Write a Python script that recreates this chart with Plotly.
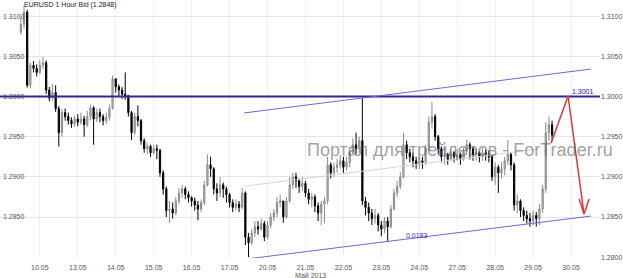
import numpy as np
import plotly.graph_objects as go

# ---- data (prices in pips: 13000 = 1.3000), 2-hour bars starting 09.05 12:00 ----
first_open = 13080
closes = [13090,13105,13014,13039,13035,13030,13039,13042,13008,12998,13005,12985,12955,12980,12975,12970,
          12966,12972,12968,12972,12965,12975,12986,12972,12980,12975,12970,12974,12985,13022,13012,13008,
          13003,13001,12980,12955,12975,12970,12945,12935,12938,12930,12935,12933,12905,12885,12858,12860,
          12855,12870,12880,12885,12878,12874,12870,12865,12860,12868,12890,12915,12910,12885,12880,12890,
          12885,12878,12868,12862,12866,12862,12880,12825,12818,12830,12838,12835,12842,12825,12840,12850,
          12855,12868,12870,12850,12870,12890,12900,12895,12888,12892,12880,12872,12875,12864,12855,12866,
          12870,12915,12905,12912,12915,12920,12912,12918,12930,12940,12935,12945,12870,12862,12855,12848,
          12852,12840,12835,12845,12838,12860,12880,12888,12900,12940,12930,12925,12920,12915,12920,12918,
          12935,12968,12975,12950,12935,12925,12928,12922,12930,12925,12928,12922,12932,12940,12935,12928,
          12930,12925,12930,12928,12925,12900,12912,12905,12910,12920,12928,12915,12865,12870,12858,12852,
          12848,12845,12852,12848,12860,12885,12955,12965,12952]
highs = [13098,13113,13108,13042,13044,13040,13045,13049,13045,13012,13015,13014,12988,12984,12985,12980,
         12974,12976,12978,12980,12976,12982,12990,12988,12985,12985,12978,12980,12990,13026,13022,13015,
         13012,13030,13002,12982,12980,12989,12972,12948,12942,12940,12940,12940,12935,12908,12888,12870,
         12868,12875,12886,12890,12888,12882,12876,12874,12870,12872,12895,12928,12925,12912,12892,12900,
         12893,12888,12880,12872,12872,12870,12886,12882,12830,12835,12845,12845,12848,12845,12845,12855,
         12860,12875,12878,12870,12875,12900,12905,12905,12898,12900,12895,12885,12880,12878,12868,12870,
         12875,12925,12918,12918,12922,12927,12925,12925,12936,12948,12955,12950,12998,12875,12868,12860,
         12860,12855,12845,12850,12850,12865,12885,12895,12906,12955,12945,12935,12930,12925,12925,12925,
         12940,12975,12993,12978,12952,12938,12935,12930,12934,12932,12935,12930,12936,12946,12943,12938,
         12935,12932,12936,12934,12933,12928,12918,12915,12918,12925,12946,12930,12918,12878,12872,12862,
         12858,12855,12858,12856,12866,12890,12968,12975,12970]
lows = [13077,13085,13011,13010,13030,13025,13028,13034,13003,12994,12995,12981,12938,12950,12970,12965,
        12961,12962,12963,12965,12950,12962,12970,12940,12968,12968,12964,12966,12970,12984,13005,13000,
        12997,12996,12975,12946,12952,12963,12940,12930,12928,12925,12928,12922,12900,12878,12850,12843,
        12848,12852,12866,12874,12872,12868,12863,12858,12846,12856,12865,12888,12900,12878,12870,12875,
        12874,12868,12862,12856,12858,12856,12860,12815,12800,12815,12825,12828,12833,12820,12822,12836,
        12845,12850,12862,12843,12848,12868,12885,12886,12880,12882,12875,12866,12862,12856,12845,12840,
        12842,12866,12898,12900,12905,12910,12905,12908,12912,12928,12928,12930,12865,12852,12845,12840,
        12842,12832,12826,12830,12820,12836,12858,12875,12885,12898,12922,12918,12912,12910,12910,12910,
        12915,12932,12960,12945,12928,12918,12915,12915,12920,12918,12920,12915,12920,12928,12925,12920,
        12920,12918,12920,12920,12918,12895,12890,12880,12898,12902,12915,12908,12858,12855,12850,12845,
        12842,12838,12840,12838,12840,12855,12880,12945,12945]

day_labels = ["10.05","13.05","14.05","15.05","16.05","17.05","20.05","21.05",
              "22.05","23.05","24.05","27.05","28.05","29.05","30.05"]
day_hours = [0, 24, 48, 72, 96, 120, 144, 168, 192, 216, 240, 264, 288, 312, 336]
price_ticks = [1.2800, 1.2850, 1.2900, 1.2950, 1.3000, 1.3050, 1.3100]

# drawn objects (x in hours from 10.05 00:00, y in price)
level_price = 1.3000
upper_channel = ([129.2, 348.6], [1.29795, 1.30342])
lower_channel = ([130.5, 348.6], [1.27977, 1.28512])
mid_channel = ([130.5, 315.2], [1.28886, 1.29346])
red_path = ([323.4, 334.1, 344.2], [1.29421, 1.30006, 1.28537])
arrow_wing_x = [341.1, 347.4]
arrow_wing_y = 1.28724

# ---- build ----
c = np.array(closes) / 10000.0
o = np.concatenate([[first_open / 10000.0], c[:-1]])
h = np.maximum.reduce([np.array(highs) / 10000.0, o, c])
l = np.minimum.reduce([np.array(lows) / 10000.0, o, c])
x = -12 + 2 * np.arange(len(c))

fig = go.Figure()
fig.add_trace(go.Candlestick(
    x=x, open=o, high=h, low=l, close=c,
    increasing=dict(line=dict(color="#8a8a8a", width=1), fillcolor="#c4c4c4"),
    decreasing=dict(line=dict(color="#000000", width=1), fillcolor="#000000"),
    whiskerwidth=0, showlegend=False, hoverinfo="skip"))
fig.add_trace(go.Scatter(x=[x[0]], y=[c[0]], yaxis="y2", mode="markers",
                         marker=dict(opacity=0), showlegend=False, hoverinfo="skip"))

yr = [1.27990, 1.31201]
xr = [-25.2, 354.3]
tickfont = dict(family="Liberation Sans, Arial", size=7, color="#555555")

shapes = []
shapes.append(dict(type="line", xref="paper", yref="y", x0=0, x1=1, y0=level_price, y1=level_price,
                   line=dict(color="#2b2b90", width=2), layer="above"))
for (xs, ys), col, w in [(upper_channel, "#6a6ad0", 1), (lower_channel, "#6a6ad0", 1),
                         (mid_channel, "#d4d4ec", 1)]:
    shapes.append(dict(type="line", xref="x", yref="y", x0=xs[0], x1=xs[1], y0=ys[0], y1=ys[1],
                       line=dict(color=col, width=w), layer="above"))
rx, ry = red_path
for i in range(len(rx) - 1):
    shapes.append(dict(type="line", xref="x", yref="y", x0=rx[i], x1=rx[i + 1], y0=ry[i], y1=ry[i + 1],
                       line=dict(color="#e2363a", width=1.5), layer="above"))
for wx in arrow_wing_x:
    shapes.append(dict(type="line", xref="x", yref="y", x0=wx, x1=rx[-1], y0=arrow_wing_y, y1=ry[-1],
                       line=dict(color="#e2363a", width=1.5), layer="above"))

annotations = [
    dict(text="EURUSD 1 Hour Bid (1.2848)", xref="paper", yref="paper", x=0.037, y=0.982,
         xanchor="left", yanchor="middle", showarrow=False,
         font=dict(family="Liberation Sans, Arial", size=7, color="#222222")),
    dict(text="Портал для трейдеров - ForTrader.ru", xref="paper", yref="paper", x=0.508, y=0.42,
         xanchor="left", yanchor="middle", showarrow=False,
         font=dict(family="Liberation Sans, Arial", size=18, color="rgba(100,100,100,0.62)")),
    dict(text="1.3001", xref="x", yref="y", x=352.0, y=1.30058, xanchor="right", yanchor="middle",
         showarrow=False, font=dict(family="Liberation Sans, Arial", size=7, color="#2020a0")),
    dict(text="0.0183", xref="x", yref="y", x=238.3, y=1.28276, xanchor="center", yanchor="middle",
         showarrow=False, font=dict(family="Liberation Sans, Arial", size=7, color="#3030b0")),
    dict(text="Май 2013", xref="paper", yref="paper", x=0.518, y=-0.068, xanchor="center",
         yanchor="middle", showarrow=False, font=tickfont),
]

fig.update_layout(
    width=623, height=278, margin=dict(l=0, r=21, t=0, b=20),
    paper_bgcolor="white", plot_bgcolor="white", boxgap=0.45,
    xaxis=dict(range=xr, tickvals=day_hours, ticktext=day_labels, showgrid=True,
               gridcolor="#efefef", gridwidth=1, zeroline=False, showline=False,
               ticks="outside", ticklen=3, tickcolor="rgba(0,0,0,0)", tickfont=tickfont,
               rangeslider=dict(visible=False), fixedrange=True),
    yaxis=dict(range=yr, tickvals=price_ticks, ticktext=[f"{p:.4f}" for p in price_ticks],
               ticklabelposition="inside", side="left", showgrid=True, gridcolor="#e6e6e6",
               zeroline=False, showline=False, ticks="", tickfont=tickfont),
    yaxis2=dict(range=yr, overlaying="y", side="right", tickvals=price_ticks,
                ticktext=[f"{p:.4f}" for p in price_ticks], showgrid=False, zeroline=False,
                showline=False, ticks="", tickfont=tickfont),
    shapes=shapes, annotations=annotations, showlegend=False,
)

fig.write_html("out.html")
